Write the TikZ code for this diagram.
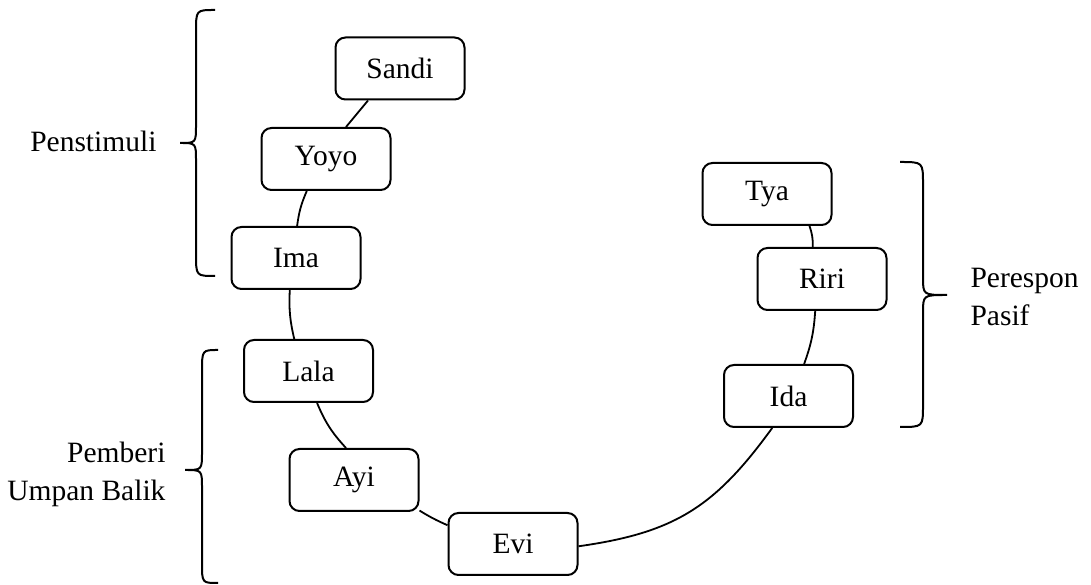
\documentclass[tikz,border=0pt]{standalone}
\usepackage{fontspec}
\setmainfont{Liberation Serif}
\usetikzlibrary{positioning}

\tikzset{
	member/.style={draw, rectangle, rounded corners=10pt, minimum width=129pt,
		minimum height=62pt, inner sep=0pt, fill=white, line width=2pt},
	link/.style={line width=1.8pt},
	brace/.style={line width=2pt},
}

\begin{document}
\begin{tikzpicture}[x=1pt, y=1pt,
		every node/.style={font=\fontsize{29.5}{38}\selectfont}]
	\useasboundingbox (0,0) rectangle (1091,585);

	\node[member] (sandi) at (400,516.5) {Sandi};
	\node[member] (yoyo)  at (326,426)   {Yoyo};
	\node[member] (ima)   at (296,327)   {Ima};
	\node[member] (lala)  at (308.5,214) {Lala};
	\node[member] (ayi)   at (354,105)   {Ayi};
	\node[member] (evi)   at (513,41)    {Evi};
	\node[member] (ida)   at (788.5,189) {Ida};
	\node[member] (riri)  at (822,306)   {Riri};
	\node[member] (tya)   at (767,391)   {Tya};

	\draw[link] (sandi.225) -- (yoyo.58);
	\draw[link] (yoyo.239) to[bend right=8] (ima.88);
	\draw[link] (ima.259) to[bend right=8] (lala.114);
	\draw[link] (lala.285) to[bend right=10] (ayi.104);
	\draw[link] (ayi.335) to[bend right=4] (evi.164);
	\draw[link] (evi.358) to[out=8, in=234, looseness=1.1] (ida.243);
	\draw[link] (ida.64) to[bend right=8] (riri.258);
	\draw[link] (riri.106) to[bend right=10] (tya.323);

	% kurung kurawal
	\draw[brace] (215,575) .. controls (196,575) .. (196,553) -- (196,460)
		.. controls (196,442) .. (180,442) .. controls (196,442) .. (196,424)
		-- (196,331) .. controls (196,309) .. (215,309);
	\draw[brace] (218,235) .. controls (202,235) .. (202,213) -- (202,133)
		.. controls (202,115) .. (185,115) .. controls (202,115) .. (202,97)
		-- (202,22) .. controls (202,2) .. (218,2);
	\draw[brace] (900,423) .. controls (923,423) .. (923,401) -- (923,308)
		.. controls (923,290) .. (947,290) .. controls (923,290) .. (923,272)
		-- (923,180) .. controls (923,158) .. (900,158);

	\node[anchor=base east] (penstimuli) at (160,433) {Penstimuli};
	\node[anchor=east, align=right] (pemberi) at (169,111) {Pemberi\\Umpan Balik};
	\node[anchor=west, align=left] (perespon) at (967,288) {Perespon\\Pasif};
\end{tikzpicture}
\end{document}
